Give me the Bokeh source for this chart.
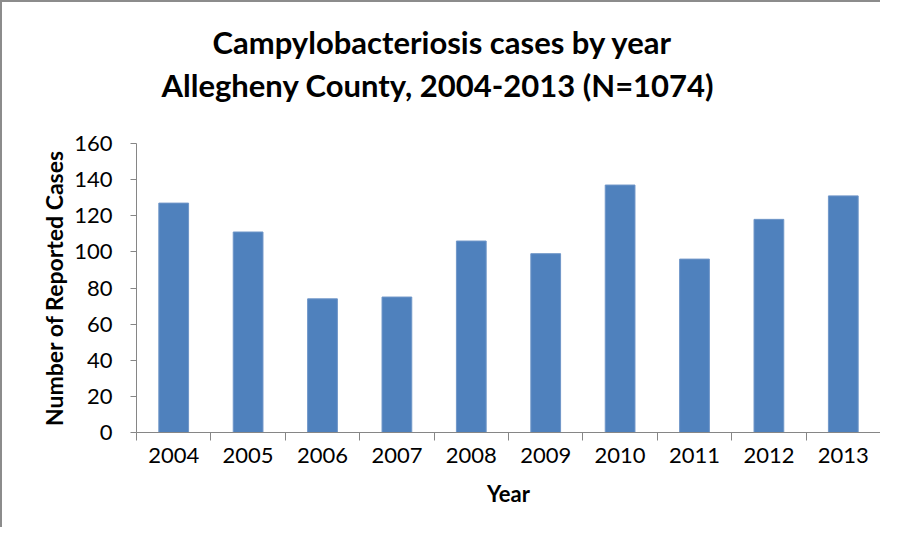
from bokeh.plotting import figure
from bokeh.models import Range1d, FixedTicker, Title, ColumnDataSource
from bokeh.embed import file_html
from bokeh.resources import INLINE

years = ["2004", "2005", "2006", "2007", "2008", "2009", "2010", "2011", "2012", "2013"]
cases = [127, 111, 74, 75, 106, 99, 137, 96, 118, 131]
y_ticks = [0, 20, 40, 60, 80, 100, 120, 140, 160]
title_lines = ["Campylobacteriosis cases by year", "Allegheny County, 2004-2013 (N=1074)"]
x_label = "Year"
y_label = "Number of Reported Cases"

FONT = "Lato"
AXIS_GRAY = "#868686"

centers = [i + 0.5 for i in range(len(years))]
bounds = list(range(len(years) + 1))

p = figure(width=880, height=527, output_backend="svg", toolbar_location=None,
           x_range=Range1d(0, len(years)), y_range=Range1d(y_ticks[0], y_ticks[-1]),
           min_border_left=134, min_border_right=2, min_border_top=141, min_border_bottom=97,
           styles={"border-top": "2px solid #8c8c8c", "border-left": "2px solid #8c8c8c"})
p.outline_line_color = None
p.xgrid.visible = False
p.ygrid.visible = False

src = ColumnDataSource(dict(x=centers, top=cases, year=years))
p.vbar(x="x", top="top", bottom=0, width=0.4, source=src,
       fill_color="#4F81BD", line_color="#6F96C8", line_width=1)

# x axis: labels at centers, tick marks at category boundaries
xa = p.xaxis[0]
xa.ticker = FixedTicker(ticks=centers, minor_ticks=bounds)
xa.major_label_overrides = {c: y for c, y in zip(centers, years)}
xa.major_tick_out = 0
xa.major_tick_in = 0
xa.minor_tick_out = 8
xa.minor_tick_in = 0
xa.minor_tick_line_color = AXIS_GRAY
xa.axis_line_color = AXIS_GRAY
xa.major_label_text_font = FONT
xa.major_label_text_font_size = "22px"
xa.major_label_text_color = "#000000"
xa.major_label_standoff = 7
xa.axis_label = x_label
xa.axis_label_text_font = FONT
xa.axis_label_text_font_style = "bold"
xa.axis_label_text_font_size = "22px"
xa.axis_label_text_color = "#000000"
xa.axis_label_standoff = 14

ya = p.yaxis[0]
ya.ticker = FixedTicker(ticks=y_ticks)
ya.major_tick_out = 6
ya.major_tick_in = 0
ya.minor_tick_out = 0
ya.minor_tick_in = 0
ya.major_tick_line_color = AXIS_GRAY
ya.axis_line_color = AXIS_GRAY
ya.major_label_text_font = FONT
ya.major_label_text_font_size = "22px"
ya.major_label_text_color = "#000000"
ya.major_label_standoff = 18
ya.axis_label = y_label
ya.axis_label_text_font = FONT
ya.axis_label_text_font_style = "bold"
ya.axis_label_text_font_size = "23px"
ya.axis_label_text_color = "#000000"
ya.axis_label_standoff = 3

# two-line title: line 1 is the figure title (outermost); a spacer sits next to the
# plot area and line 2 sits between them
p.title.text = title_lines[0]
p.title.align = "left"
p.title.offset = 76
p.title.text_font = FONT
p.title.text_font_style = "bold"
p.title.text_font_size = "31px"
p.title.text_color = "#000000"
p.title.standoff = 2
p.add_layout(Title(text=" ", text_font_size="26px", standoff=6), "above")
p.add_layout(Title(text=title_lines[1], align="left", offset=25, text_font=FONT,
                   text_font_style="bold", text_font_size="31px", text_color="#000000",
                   standoff=4), "above")

open("out.html", "w").write(file_html(p, INLINE))
